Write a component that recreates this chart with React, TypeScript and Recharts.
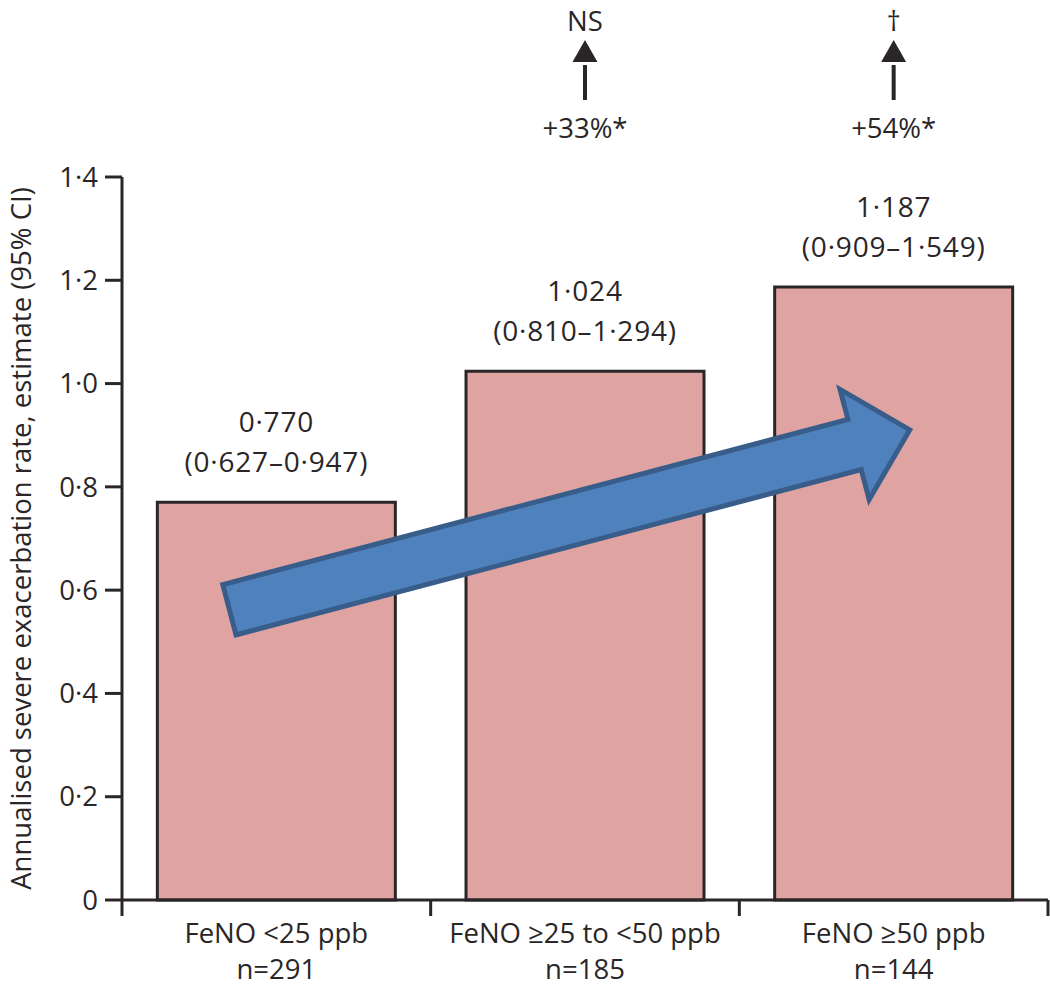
import React from 'react';
import { BarChart, Bar, XAxis, YAxis, LabelList, ReferenceLine } from 'recharts';

const categories = ['FeNO <25 ppb', 'FeNO ≥25 to <50 ppb', 'FeNO ≥50 ppb'];
const sampleSizes = [291, 185, 144];
const rates = [0.770, 1.024, 1.187];
const ciLow = [0.627, 0.810, 0.909];
const ciHigh = [0.947, 1.294, 1.549];
const changes = ['', '+33%*', '+54%*'];
const significance = ['', 'NS', '†'];
const yTicks = [0, 0.2, 0.4, 0.6, 0.8, 1.0, 1.2, 1.4];
const yTitle = 'Annualised severe exacerbation rate, estimate (95% CI)';
// trend arrow, drawn from the first to the last group
const trendFrom = { x: categories[0], y: 0.586 };
const trendTo = { x: categories[2], y: 0.902 };

const data = categories.map((name, i) => ({
  name,
  rate: rates[i],
  lo: ciLow[i],
  hi: ciHigh[i],
  n: sampleSizes[i],
  change: changes[i],
  sig: significance[i],
}));

const ink = '#2a2627';
const font = '"Open Sans", sans-serif';
const fs = 27.5;
const dot = (v: number, d: number) => v.toFixed(d).replace('.', '·');

function BottomTick(props: any) {
  const { x, y, payload, index } = props;
  const half = payload?.offset ?? 0;
  const row = data[index];
  return (
    <g>
      <line x1={x - half} x2={x - half} y1={y} y2={y + 16} stroke={ink} strokeWidth={3} />
      {index === data.length - 1 && (
        <line x1={x + half} x2={x + half} y1={y} y2={y + 16} stroke={ink} strokeWidth={3} />
      )}
      <text x={x} y={y + 43} textAnchor="middle" fill={ink} fontSize={fs} fontFamily={font}>
        {payload.value}
      </text>
      <text x={x} y={y + 79} textAnchor="middle" fill={ink} fontSize={fs} fontFamily={font}>
        n={row?.n}
      </text>
    </g>
  );
}

function TopTick(props: any) {
  const { x, y, index } = props;
  const row = data[index];
  if (!row || !row.change) return null;
  return (
    <g>
      <text x={x} y={y - 39} textAnchor="middle" fill={ink} fontSize={fs} fontFamily={font}>
        {row.change}
      </text>
      <line x1={x} x2={x} y1={y - 77} y2={y - 112} stroke={ink} strokeWidth={4} />
      <polygon points={`${x - 12.5},${y - 115} ${x + 12.5},${y - 115} ${x},${y - 137}`} fill={ink} />
      <text x={x} y={y - 146} textAnchor="middle" fill={ink} fontSize={fs} fontFamily={font}>
        {row.sig}
      </text>
    </g>
  );
}

function RateLabel(props: any) {
  const { x, y, width, index } = props;
  const row = data[index];
  const cx = x + width / 2;
  return (
    <g fill={ink} fontSize={28} fontFamily={font} letterSpacing={0.8}>
      <text x={cx} y={y - 70} textAnchor="middle">
        {dot(row.rate, 3)}
      </text>
      <text x={cx} y={y - 30} textAnchor="middle">
        ({dot(row.lo, 3)}–{dot(row.hi, 3)})
      </text>
    </g>
  );
}

function YTitle(props: any) {
  const vb = props.viewBox;
  const cx = vb.x + 31;
  const cy = vb.y + vb.height / 2;
  return (
    <text
      x={cx}
      y={cy}
      transform={`rotate(-90 ${cx} ${cy})`}
      textAnchor="middle"
      fill={ink}
      fontSize={fs}
      fontFamily={font}
    >
      {yTitle}
    </text>
  );
}

function TrendArrow(props: any) {
  const { x1, y1, x2, y2 } = props;
  const dx = x2 - x1;
  const dy = y2 - y1;
  const len = Math.sqrt(dx * dx + dy * dy);
  const ux = dx / len;
  const uy = dy / len;
  const nx = -uy;
  const ny = ux;
  const tailS = -0.076 * len;
  const tipS = len + 0.026 * len;
  const headS = tipS - 57;
  const shaft = 26;
  const head = 57;
  const pt = (s: number, w: number) => `${x1 + ux * s + nx * w},${y1 + uy * s + ny * w}`;
  const pts = [
    pt(tailS, -shaft),
    pt(headS, -shaft),
    pt(headS, -head),
    pt(tipS, 0),
    pt(headS, head),
    pt(headS, shaft),
    pt(tailS, shaft),
  ].join(' ');
  return <polygon points={pts} fill="#4f81bd" stroke="#385d8a" strokeWidth={5} strokeLinejoin="miter" />;
}

export default function App() {
  return (
    <div style={{ position: 'absolute', left: 0, top: 0, background: '#fff' }}>
      <BarChart
        width={1050}
        height={987}
        data={data}
        margin={{ top: 7, right: 2, left: 0, bottom: 0 }}
        barCategoryGap="11.45%"
        style={{ fontFamily: font }}
      >
        <XAxis
          xAxisId="top"
          orientation="top"
          dataKey="name"
          height={170}
          axisLine={false}
          tickLine={false}
          tickSize={0}
          tickMargin={0}
          tick={<TopTick />}
          interval={0}
        />
        <XAxis
          dataKey="name"
          height={87}
          axisLine={{ stroke: ink, strokeWidth: 3 }}
          tickLine={false}
          tickSize={0}
          tickMargin={0}
          tick={<BottomTick />}
          interval={0}
        />
        <YAxis
          width={122}
          domain={[0, 1.4]}
          ticks={yTicks}
          interval={0}
          axisLine={{ stroke: ink, strokeWidth: 3 }}
          tickLine={{ stroke: ink, strokeWidth: 3 }}
          tickSize={17}
          tickMargin={7}
          tick={{ fill: ink, fontSize: fs, fontFamily: font }}
          tickFormatter={(v: number) => (v === 0 ? '0' : dot(v, 1))}
          label={{ value: yTitle, content: <YTitle /> }}
        />
        <Bar dataKey="rate" fill="#dfa4a2" stroke={ink} strokeWidth={3} isAnimationActive={false}>
          <LabelList dataKey="rate" content={<RateLabel />} />
        </Bar>
        <ReferenceLine segment={[trendFrom, trendTo]} shape={<TrendArrow />} ifOverflow="visible" />
      </BarChart>
    </div>
  );
}
